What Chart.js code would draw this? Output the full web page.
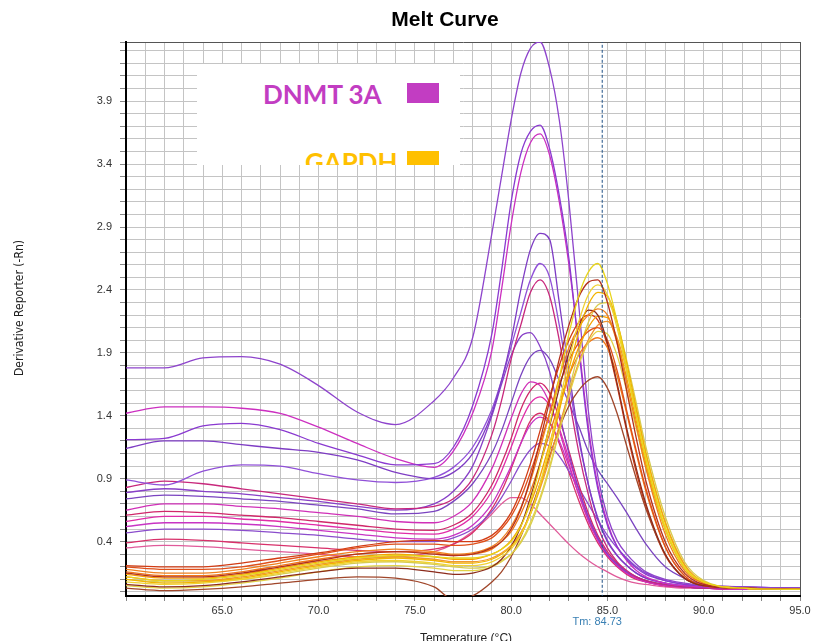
<!DOCTYPE html>
<html>
<head>
<meta charset="utf-8">
<title>Melt Curve</title>
<script src="https://cdn.jsdelivr.net/npm/chart.js@4.4.1/dist/chart.umd.min.js"></script>
<style>
  html, body { margin: 0; padding: 0; background: #fff; }
  #wrap { position: relative; width: 821px; height: 641px; overflow: hidden; }
  #legendBox {
    position: absolute; left: 197px; top: 64px; width: 263px; height: 101px;
    background: #fff; overflow: hidden;
    font-family: Lato, "Open Sans", sans-serif; font-weight: bold;
    font-size: 26px; line-height: 26px;
  }
  .lbl { position: absolute; white-space: nowrap; }
  .sw { position: absolute; width: 32px; height: 20px; }
</style>
</head>
<body>
<div id="wrap">
  <canvas id="melt" width="821" height="641"></canvas>
  <div id="legendBox">
    <span class="lbl" style="left:66px;top:17px;color:#c23dc2">DNMT 3A</span>
    <div class="sw" style="left:210px;top:19px;background:#c23dc2"></div>
    <span class="lbl" style="left:108px;top:85px;color:#ffc000">GAPDH</span>
    <div class="sw" style="left:210px;top:87px;background:#ffc000"></div>
  </div>
</div>
<script>
/* Temperatures (°C) where every curve is read */
const temps = [60, 62, 64, 66, 68, 70, 72, 74, 76,
               77, 78, 79, 79.5, 80, 80.5, 81, 81.5, 82,
               82.5, 83, 83.5, 84, 84.5, 85, 85.5, 86,
               86.5, 87, 88, 89, 90, 92, 95];

const tm = 84.73;
const xLabelTicks = [65, 70, 75, 80, 85, 90, 95];
const yLabelTicks = [0.4, 0.9, 1.4, 1.9, 2.4, 2.9, 3.4, 3.9];

/* DNMT 3A wells (peak near 81.5 °C) */
const dnmt1  = [1.78, 1.78, 1.86, 1.87, 1.81, 1.64, 1.43, 1.33, 1.52,  1.70, 2.02, 2.85, 3.30, 3.75, 4.12, 4.32, 4.37, 4.16,  3.75, 3.10, 2.30, 1.45, 0.92, 0.60, 0.41, 0.30,  0.22, 0.16, 0.10, 0.07, 0.05, 0.04, 0.03];
const dnmt2  = [1.21, 1.22, 1.32, 1.34, 1.29, 1.18, 1.09, 1.01, 1.02,  1.15, 1.48, 2.05, 2.55, 3.10, 3.48, 3.66, 3.71, 3.52,  3.15, 2.65, 1.95, 1.28, 0.82, 0.53, 0.36, 0.26,  0.19, 0.14, 0.09, 0.06, 0.05, 0.04, 0.03];
const dnmt3  = [1.42, 1.47, 1.47, 1.46, 1.42, 1.31, 1.18, 1.06, 0.99,  1.12, 1.42, 1.92, 2.40, 2.92, 3.33, 3.57, 3.64, 3.47,  3.10, 2.60, 1.98, 1.32, 0.85, 0.55, 0.36, 0.25,  0.17, 0.12, 0.07, 0.05, 0.04, 0.03, 0.02];
const dnmt4  = [1.14, 1.20, 1.20, 1.17, 1.14, 1.11, 1.05, 0.95, 0.90,  0.95, 1.10, 1.42, 1.68, 2.00, 2.40, 2.72, 2.85, 2.80,  2.30, 1.75, 1.25, 0.86, 0.58, 0.40, 0.29, 0.21,  0.15, 0.11, 0.07, 0.05, 0.04, 0.03, 0.03];
const dnmt5  = [0.89, 0.85, 0.96, 1.01, 1.00, 0.94, 0.89, 0.87, 0.91,  0.99, 1.15, 1.45, 1.68, 1.95, 2.22, 2.48, 2.61, 2.50,  2.12, 1.66, 1.22, 0.86, 0.59, 0.41, 0.29, 0.21,  0.15, 0.11, 0.07, 0.05, 0.04, 0.03, 0.03];
const dnmt6  = [0.83, 0.88, 0.86, 0.82, 0.78, 0.74, 0.70, 0.66, 0.68,  0.74, 0.90, 1.25, 1.52, 1.85, 2.12, 2.38, 2.48, 2.35,  2.00, 1.55, 1.12, 0.78, 0.52, 0.35, 0.24, 0.17,  0.12, 0.09, 0.06, 0.04, 0.03, 0.03, 0.02];
const dnmt7  = [0.79, 0.82, 0.80, 0.78, 0.75, 0.72, 0.68, 0.65, 0.70,  0.80, 1.00, 1.40, 1.65, 1.88, 2.03, 2.06, 1.95, 1.75,  1.42, 1.10, 0.82, 0.60, 0.43, 0.30, 0.22, 0.16,  0.12, 0.09, 0.06, 0.04, 0.03, 0.03, 0.02];
const dnmt8  = [0.74, 0.77, 0.76, 0.74, 0.72, 0.69, 0.66, 0.62, 0.64,  0.72, 0.86, 1.10, 1.28, 1.50, 1.72, 1.87, 1.92, 1.85,  1.68, 1.50, 1.32, 1.12, 0.97, 0.86, 0.75, 0.63,  0.50, 0.38, 0.20, 0.11, 0.06, 0.04, 0.03];
const dnmt9  = [0.65, 0.70, 0.70, 0.68, 0.66, 0.63, 0.60, 0.56, 0.55,  0.60, 0.72, 0.98, 1.17, 1.38, 1.57, 1.67, 1.64, 1.50,  1.28, 1.02, 0.78, 0.57, 0.41, 0.29, 0.21, 0.15,  0.11, 0.08, 0.05, 0.04, 0.03, 0.02, 0.02];
const dnmt10 = [0.61, 0.64, 0.63, 0.61, 0.59, 0.56, 0.53, 0.50, 0.49,  0.53, 0.63, 0.85, 1.02, 1.22, 1.45, 1.60, 1.66, 1.58,  1.38, 1.12, 0.86, 0.63, 0.45, 0.32, 0.23, 0.16,  0.12, 0.09, 0.05, 0.04, 0.03, 0.02, 0.02];
const dnmt11 = [0.56, 0.60, 0.60, 0.58, 0.56, 0.53, 0.50, 0.47, 0.46,  0.50, 0.60, 0.80, 0.96, 1.15, 1.35, 1.50, 1.55, 1.48,  1.30, 1.06, 0.82, 0.60, 0.43, 0.30, 0.21, 0.15,  0.11, 0.08, 0.05, 0.04, 0.03, 0.02, 0.02];
const dnmt12 = [0.52, 0.55, 0.55, 0.54, 0.52, 0.49, 0.46, 0.43, 0.42,  0.45, 0.53, 0.70, 0.84, 1.00, 1.18, 1.33, 1.39, 1.34,  1.20, 1.00, 0.78, 0.58, 0.42, 0.30, 0.21, 0.15,  0.11, 0.08, 0.05, 0.04, 0.03, 0.02, 0.02];
const dnmt13 = [0.47, 0.50, 0.50, 0.49, 0.47, 0.45, 0.42, 0.40, 0.40,  0.43, 0.50, 0.64, 0.75, 0.88, 1.02, 1.13, 1.18, 1.16,  1.08, 0.96, 0.83, 0.70, 0.57, 0.45, 0.35, 0.27,  0.20, 0.15, 0.09, 0.06, 0.04, 0.03, 0.02];
const dnmt14 = [0.39, 0.42, 0.41, 0.39, 0.37, 0.35, 0.33, 0.32, 0.34,  0.38, 0.47, 0.66, 0.80, 0.98, 1.18, 1.36, 1.42, 1.35,  1.18, 0.95, 0.73, 0.54, 0.39, 0.28, 0.20, 0.14,  0.10, 0.08, 0.05, 0.04, 0.03, 0.02, 0.02];
const dnmt15 = [0.35, 0.37, 0.36, 0.34, 0.32, 0.30, 0.28, 0.28, 0.32,  0.38, 0.48, 0.62, 0.70, 0.75, 0.75, 0.70, 0.62, 0.54,  0.46, 0.38, 0.31, 0.25, 0.20, 0.16, 0.12, 0.09,  0.07, 0.06, 0.04, 0.03, 0.03, 0.02, 0.02];

/* GAPDH wells (peak near 84.5 °C) */
const gapdh1  = [0.12, 0.09, 0.10, 0.13, 0.18, 0.23, 0.27, 0.29, 0.28,  0.27, 0.27, 0.30, 0.34, 0.40, 0.52, 0.72, 1.00, 1.33,  1.70, 2.05, 2.35, 2.54, 2.61, 2.45, 2.15, 1.78,  1.40, 1.05, 0.50, 0.19, 0.08, 0.03, 0.02];
const gapdh2  = [0.15, 0.12, 0.12, 0.15, 0.20, 0.25, 0.30, 0.32, 0.30,  0.29, 0.30, 0.35, 0.40, 0.50, 0.66, 0.90, 1.20, 1.52,  1.85, 2.12, 2.34, 2.46, 2.48, 2.30, 1.98, 1.60,  1.22, 0.88, 0.40, 0.15, 0.06, 0.03, 0.02];
const gapdh3  = [0.08, 0.06, 0.07, 0.10, 0.15, 0.20, 0.24, 0.25, 0.23,  0.21, 0.21, 0.24, 0.28, 0.34, 0.45, 0.62, 0.86, 1.16,  1.50, 1.84, 2.14, 2.36, 2.44, 2.36, 2.10, 1.76,  1.40, 1.06, 0.52, 0.20, 0.08, 0.03, 0.02];
const gapdh4  = [0.10, 0.07, 0.08, 0.11, 0.16, 0.21, 0.25, 0.27, 0.25,  0.23, 0.23, 0.26, 0.30, 0.36, 0.46, 0.62, 0.84, 1.12,  1.44, 1.77, 2.06, 2.28, 2.38, 2.35, 2.15, 1.82,  1.46, 1.10, 0.55, 0.21, 0.08, 0.03, 0.02];
const gapdh5  = [0.18, 0.15, 0.15, 0.18, 0.23, 0.28, 0.32, 0.34, 0.32,  0.30, 0.31, 0.36, 0.42, 0.52, 0.67, 0.88, 1.14, 1.42,  1.70, 1.94, 2.10, 2.20, 2.25, 2.20, 1.98, 1.66,  1.32, 0.98, 0.46, 0.17, 0.07, 0.03, 0.02];
const gapdh6  = [0.06, 0.04, 0.05, 0.08, 0.12, 0.16, 0.19, 0.19, 0.16,  0.14, 0.15, 0.20, 0.26, 0.36, 0.52, 0.75, 1.02, 1.32,  1.62, 1.90, 2.10, 2.24, 2.20, 1.98, 1.66, 1.30,  0.98, 0.70, 0.30, 0.11, 0.05, 0.03, 0.02];
const gapdh7  = [0.14, 0.11, 0.11, 0.14, 0.19, 0.24, 0.28, 0.30, 0.28,  0.26, 0.26, 0.30, 0.34, 0.41, 0.53, 0.70, 0.92, 1.18,  1.46, 1.72, 1.94, 2.10, 2.19, 2.18, 2.00, 1.70,  1.36, 1.02, 0.50, 0.19, 0.07, 0.03, 0.02];
const gapdh8  = [0.20, 0.18, 0.18, 0.20, 0.25, 0.30, 0.35, 0.38, 0.38,  0.37, 0.38, 0.43, 0.50, 0.60, 0.75, 0.95, 1.18, 1.42,  1.65, 1.84, 1.98, 2.07, 2.10, 2.00, 1.76, 1.44,  1.12, 0.82, 0.36, 0.13, 0.05, 0.03, 0.02];
const gapdh9  = [0.05, 0.03, 0.04, 0.07, 0.11, 0.16, 0.20, 0.21, 0.19,  0.17, 0.17, 0.20, 0.24, 0.30, 0.40, 0.55, 0.75, 1.00,  1.28, 1.56, 1.80, 1.98, 2.07, 2.05, 1.88, 1.60,  1.30, 0.99, 0.50, 0.20, 0.08, 0.03, 0.02];
const gapdh10 = [0.12, 0.09, 0.09, 0.12, 0.17, 0.22, 0.26, 0.28, 0.26,  0.24, 0.24, 0.27, 0.31, 0.37, 0.47, 0.62, 0.82, 1.06,  1.32, 1.58, 1.82, 2.00, 2.12, 2.15, 2.02, 1.76,  1.44, 1.10, 0.56, 0.22, 0.08, 0.03, 0.02];
const gapdh11 = [0.03, 0.01, 0.02, 0.04, 0.07, 0.10, 0.12, 0.11, 0.04, -0.06, -0.03, 0.08, 0.16, 0.28, 0.44, 0.64, 0.86, 1.08,  1.30, 1.48, 1.60, 1.68, 1.71, 1.62, 1.42, 1.16,  0.90, 0.66, 0.30, 0.11, 0.05, 0.03, 0.02];
const gapdh12 = [0.10, 0.08, 0.08, 0.10, 0.14, 0.19, 0.23, 0.24, 0.22,  0.20, 0.19, 0.21, 0.25, 0.30, 0.39, 0.53, 0.73, 0.98,  1.28, 1.60, 1.90, 2.14, 2.28, 2.30, 2.14, 1.84,  1.50, 1.15, 0.60, 0.24, 0.09, 0.03, 0.02];
const gapdh13 = [0.16, 0.13, 0.13, 0.16, 0.21, 0.26, 0.30, 0.32, 0.31,  0.29, 0.30, 0.34, 0.40, 0.48, 0.62, 0.80, 1.02, 1.26,  1.50, 1.72, 1.88, 1.98, 2.02, 1.94, 1.72, 1.42,  1.10, 0.80, 0.36, 0.13, 0.05, 0.03, 0.02];
const gapdh14 = [0.21, 0.20, 0.20, 0.23, 0.27, 0.31, 0.36, 0.40, 0.41,  0.40, 0.40, 0.45, 0.52, 0.63, 0.80, 1.02, 1.28, 1.55,  1.80, 2.00, 2.14, 2.20, 2.16, 1.96, 1.64, 1.28,  0.95, 0.68, 0.29, 0.11, 0.05, 0.03, 0.02];

const dnmtCurves = [dnmt1, dnmt2, dnmt3, dnmt4, dnmt5, dnmt6, dnmt7, dnmt8,
                    dnmt9, dnmt10, dnmt11, dnmt12, dnmt13, dnmt14, dnmt15];
const dnmtColors = ["#8e44cc", "#8a3ad0", "#cc2fc0", "#7e3cc4", "#9050d8", "#c8287c", "#8840c8", "#7a44c0",
                    "#d030b8", "#d0286a", "#e02ca8", "#c834c4", "#8a4ccc", "#d8306a", "#e05a9a"];

const gapdhCurves = [gapdh1, gapdh2, gapdh3, gapdh4, gapdh5, gapdh6, gapdh7,
                     gapdh8, gapdh9, gapdh10, gapdh11, gapdh12, gapdh13, gapdh14];
const gapdhColors = ["#e8d41c", "#b4301c", "#f0d232", "#f2b400", "#f0801e", "#8c2c1c", "#f5a000",
                     "#e0501a", "#e2d246", "#f09632", "#a0462a", "#d6cc50", "#f07818", "#d23c14"];

function toPoints(values) {
  return temps.map((t, i) => ({ x: t, y: values[i] }));
}

function curveSet(values, color) {
  return {
    data: toPoints(values),
    borderColor: color,
    borderWidth: 1.3,
    pointRadius: 0,
    fill: false,
    cubicInterpolationMode: "monotone"
  };
}

const datasets = [];
/* Tm marker on top */
datasets.push({
  data: [{ x: tm, y: -1 }, { x: tm, y: 5 }],
  borderColor: "#1d4f86",
  borderWidth: 1,
  borderDash: [3, 2],
  pointRadius: 0,
  tension: 0
});
gapdhCurves.forEach((v, i) => datasets.push(curveSet(v, gapdhColors[i])));
dnmtCurves.forEach((v, i) => datasets.push(curveSet(v, dnmtColors[i])));

const Y_MIN = -0.032, Y_MAX = 4.37;
const tickFont = { family: "'Liberation Sans', Arial, sans-serif", size: 11 };

/* Titles and Tm label */
const textPlugin = {
  id: "meltText",
  afterDraw(chart) {
    const ctx = chart.ctx;
    const xs = chart.scales.x;
    ctx.save();
    ctx.textAlign = "center";
    ctx.textBaseline = "middle";

    ctx.fillStyle = "#000";
    ctx.font = "bold 21px 'Liberation Sans', Arial, sans-serif";
    ctx.fillText("Melt Curve", 445, 20);

    ctx.fillStyle = "#222";
    ctx.font = "12px 'Liberation Sans', Arial, sans-serif";
    ctx.fillText("Temperature (°C)", 466, 639);

    ctx.fillStyle = "#3a80b4";
    ctx.font = "11px 'Liberation Sans', Arial, sans-serif";
    ctx.fillText("Tm: " + tm.toFixed(2), xs.getPixelForValue(tm) - 5, 622);

    ctx.translate(20, 308);
    ctx.rotate(-Math.PI / 2);
    ctx.fillStyle = "#222";
    ctx.font = "12px 'Liberation Sans Narrow', 'DejaVu Sans Condensed', Arial, sans-serif";
    ctx.fillText("Derivative Reporter (-Rn)", 0, 0);
    ctx.restore();
  }
};

new Chart(document.getElementById("melt"), {
  type: "line",
  data: { datasets },
  plugins: [textPlugin],
  options: {
    responsive: false,
    animation: false,
    events: [],
    layout: { padding: { top: 42, right: 21, left: 0, bottom: 0 } },
    plugins: { legend: { display: false }, tooltip: { enabled: false } },
    scales: {
      x: {
        type: "linear",
        min: 60,
        max: 95,
        afterFit: s => { s.height = 45; },
        ticks: {
          stepSize: 1,
          autoSkip: false,
          maxRotation: 0,
          padding: 3,
          color: "#333",
          font: tickFont,
          callback: v => xLabelTicks.includes(v) ? v.toFixed(1) : ""
        },
        grid: {
          color: c => (c.tick && c.tick.value === 95) ? "#555" : "#c4c4c4",
          tickColor: "#888",
          tickLength: 5,
          lineWidth: 1
        },
        border: { display: true, color: "#000", width: 2 }
      },
      y: {
        min: Y_MIN,
        max: Y_MAX,
        afterFit: s => { s.width = 126; },
        afterBuildTicks: s => {
          const t = [];
          for (let k = 0; k <= 43; k++) t.push({ value: k / 10 });
          t.push({ value: Y_MAX });
          s.ticks = t;
        },
        ticks: {
          autoSkip: false,
          padding: 8,
          color: "#333",
          font: tickFont,
          callback: v => yLabelTicks.some(t => Math.abs(t - v) < 1e-6) ? v.toFixed(1) : ""
        },
        grid: {
          color: c => (c.tick && c.tick.value === Y_MAX) ? "#555" : "#c4c4c4",
          tickColor: "#888",
          tickLength: 6,
          lineWidth: 1
        },
        border: { display: true, color: "#000", width: 2 }
      }
    }
  }
});
</script>
</body>
</html>
